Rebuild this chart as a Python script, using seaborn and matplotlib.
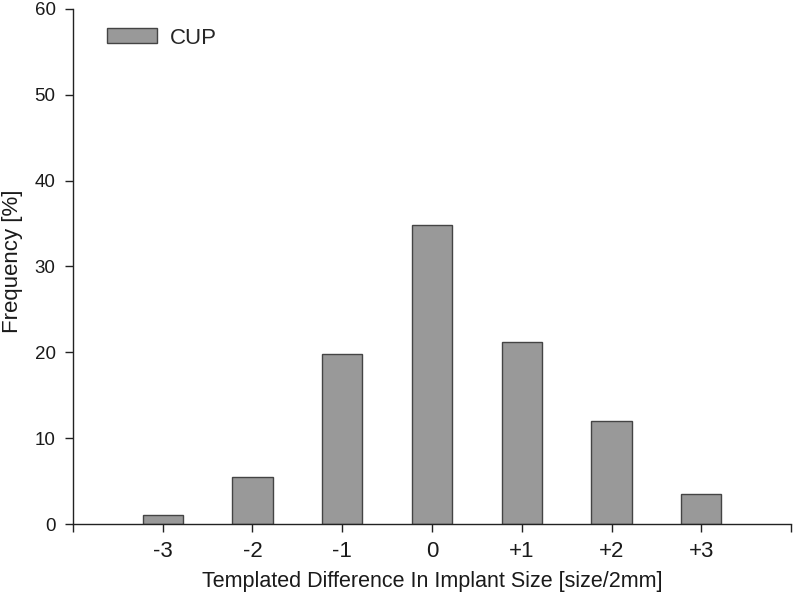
import pandas as pd
import matplotlib
matplotlib.use('Agg')
import matplotlib.pyplot as plt
import seaborn as sns

# dados
diferenca = [-3, -2, -1, 0, 1, 2, 3]
rotulos = ['-3', '-2', '-1', '0', '+1', '+2', '+3']
frequencia = [1.0, 5.5, 19.8, 34.8, 21.2, 12.0, 3.5]

df = pd.DataFrame({'diff': diferenca, 'freq': frequencia, 'grupo': 'CUP'})

sns.set_style('ticks')
plt.rcParams['font.family'] = ['Liberation Sans', 'DejaVu Sans']

fig = plt.figure(figsize=(7.93, 5.98), dpi=100)
ax = fig.add_axes([0.092, 0.1237, 0.9055, 0.8613])

sns.barplot(data=df, x='diff', y='freq', hue='grupo', native_scale=True,
            width=0.45, palette=['#999999'], edgecolor='#444444', linewidth=1,
            saturation=1, ax=ax)

ax.set_xlim(-4, 4)
ax.set_ylim(0, 60)
ax.set_xticks([-4] + diferenca + [4])
ax.set_xticklabels([''] + rotulos + [''])
ax.set_yticks(range(0, 61, 10))
ax.tick_params(axis='both', direction='out', length=6, width=1,
               color='#222222', labelcolor='#1a1a1a')
ax.tick_params(axis='x', labelsize=16, pad=6.5)
ax.tick_params(axis='y', labelsize=13.5, pad=6.5)
for s in ['left', 'bottom']:
    ax.spines[s].set_color('#222222')
    ax.spines[s].set_linewidth(1)
sns.despine(ax=ax)

ax.set_xlabel('Templated Difference In Implant Size [size/2mm]', fontsize=15.5, color='#1a1a1a')
ax.set_ylabel('Frequency [%]', fontsize=16, color='#1a1a1a')
ax.xaxis.set_label_coords(0.5, -0.091)
ax.yaxis.set_label_coords(-0.070, 0.51)

ax.legend(loc='upper left', frameon=False, fontsize=16, handlelength=2.25,
          handleheight=0.68, handletextpad=0.6, borderpad=0, borderaxespad=0,
          bbox_to_anchor=(0.047, 0.964))

fig.savefig('out.png', dpi=100)
